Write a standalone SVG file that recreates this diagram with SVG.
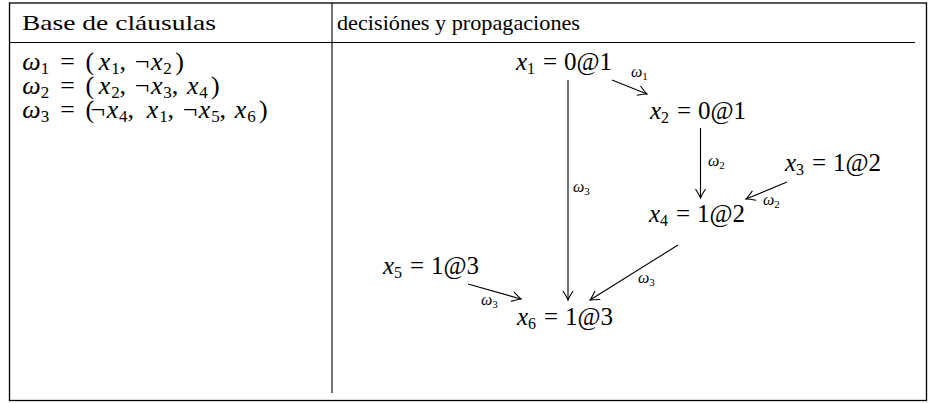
<svg xmlns="http://www.w3.org/2000/svg" width="935" height="403" viewBox="0 0 935 403">
<style>
  .t { font-family: "Liberation Serif", "Times New Roman", serif; font-size: 25px; fill: #000; }
  .c { font-family: "Liberation Serif", "Times New Roman", serif; font-size: 26px; fill: #000; text-anchor: middle; }
  .h { font-family: "Liberation Serif", "Times New Roman", serif; font-size: 21px; fill: #000; }
  .i { font-style: italic; }
  .s { font-size: 16px; font-style: normal; }
  .cs { font-size: 17px; font-style: normal; }
  .l { font-family: "Liberation Serif", "Times New Roman", serif; font-size: 16px; font-style: italic; fill: #000; }
  .ls { font-size: 11px; font-style: normal; }
  .frame { fill: none; stroke: #000; stroke-width: 1.3; }
  .edge { fill: none; stroke: #000; stroke-width: 1.1; marker-end: url(#ah); }
</style>
<defs>
  <marker id="ah" markerUnits="userSpaceOnUse" markerWidth="14" markerHeight="14" refX="0" refY="0" viewBox="-10 -7 12 14" orient="auto">
    <path d="M -9 -5 Q -3 -1.2 0 0 Q -3 1.2 -9 5" fill="none" stroke="#000" stroke-width="1.1"/>
  </marker>
</defs>
<rect id="table" x="9.5" y="3" width="917" height="397.5" class="frame"/>
<g id="rules">
  <line x1="9.5" y1="42.5" x2="915" y2="42.5" stroke="#000" stroke-width="1.1"/>
  <line x1="332" y1="3" x2="332" y2="393" stroke="#000" stroke-width="1.1"/>
</g>
<g id="headers">
  <text class="h" x="22" y="30" textLength="194" lengthAdjust="spacingAndGlyphs">Base de cláusulas</text>
  <text class="h" x="337" y="30" textLength="243" lengthAdjust="spacingAndGlyphs">decisiónes y propagaciones</text>
</g>
<g id="clauses">
  <text class="c"><tspan class="i" x="31.5" y="70">ω</tspan><tspan class="cs" x="44.9" y="74">1</tspan><tspan x="67.5" y="70">=</tspan><tspan x="89.9" y="70">(</tspan><tspan class="i" x="104.6" y="70">x</tspan><tspan class="cs" x="115.5" y="74">1</tspan><tspan x="122.8" y="70">,</tspan><tspan x="142.1" y="70">¬</tspan><tspan class="i" x="156.7" y="70">x</tspan><tspan class="cs" x="167.5" y="74">2</tspan><tspan x="179.5" y="70">)</tspan></text>
  <text class="c"><tspan class="i" x="31.5" y="94">ω</tspan><tspan class="cs" x="44.9" y="98">2</tspan><tspan x="67.5" y="94">=</tspan><tspan x="89.9" y="94">(</tspan><tspan class="i" x="104.6" y="94">x</tspan><tspan class="cs" x="115.5" y="98">2</tspan><tspan x="122.8" y="94">,</tspan><tspan x="142.1" y="94">¬</tspan><tspan class="i" x="156.7" y="94">x</tspan><tspan class="cs" x="167.5" y="98">3</tspan><tspan x="174.9" y="94">,</tspan><tspan class="i" x="192.7" y="94">x</tspan><tspan class="cs" x="203.5" y="98">4</tspan><tspan x="215.4" y="94">)</tspan></text>
  <text class="c"><tspan class="i" x="31.5" y="118">ω</tspan><tspan class="cs" x="44.9" y="122">3</tspan><tspan x="67.5" y="118">=</tspan><tspan x="89.9" y="118">(</tspan><tspan x="97.9" y="118">¬</tspan><tspan class="i" x="112.4" y="118">x</tspan><tspan class="cs" x="123.3" y="122">4</tspan><tspan x="130.7" y="118">,</tspan><tspan class="i" x="152.5" y="118">x</tspan><tspan class="cs" x="163.4" y="122">1</tspan><tspan x="170.8" y="118">,</tspan><tspan x="190" y="118">¬</tspan><tspan class="i" x="204.6" y="118">x</tspan><tspan class="cs" x="215.5" y="122">5</tspan><tspan x="222.8" y="118">,</tspan><tspan class="i" x="240.6" y="118">x</tspan><tspan class="cs" x="251.4" y="122">6</tspan><tspan x="263.4" y="118">)</tspan></text>
</g>
<g id="n1"><text class="t" y="70"><tspan x="516" class="i">x</tspan><tspan class="s" dy="4">1</tspan><tspan x="543" dy="-4">=</tspan><tspan x="564">0@1</tspan></text></g>
<g id="n2"><text class="t" y="119"><tspan x="650" class="i">x</tspan><tspan class="s" dy="4">2</tspan><tspan x="677" dy="-4">=</tspan><tspan x="698">0@1</tspan></text></g>
<g id="n3"><text class="t" y="171"><tspan x="785" class="i">x</tspan><tspan class="s" dy="4">3</tspan><tspan x="812" dy="-4">=</tspan><tspan x="833">1@2</tspan></text></g>
<g id="n4"><text class="t" y="222"><tspan x="649" class="i">x</tspan><tspan class="s" dy="4">4</tspan><tspan x="676" dy="-4">=</tspan><tspan x="697">1@2</tspan></text></g>
<g id="n5"><text class="t" y="274"><tspan x="383" class="i">x</tspan><tspan class="s" dy="4">5</tspan><tspan x="410" dy="-4">=</tspan><tspan x="431">1@3</tspan></text></g>
<g id="n6"><text class="t" y="325"><tspan x="517" class="i">x</tspan><tspan class="s" dy="4">6</tspan><tspan x="544" dy="-4">=</tspan><tspan x="565">1@3</tspan></text></g>
<g id="edges">
  <line class="edge" x1="612" y1="80" x2="647" y2="94"/>
  <line class="edge" x1="568" y1="80" x2="568" y2="300"/>
  <line class="edge" x1="700.5" y1="128" x2="700.5" y2="198"/>
  <line class="edge" x1="787" y1="182" x2="746" y2="199"/>
  <line class="edge" x1="678" y1="245" x2="590" y2="300"/>
  <line class="edge" x1="468" y1="284" x2="521" y2="299"/>
</g>
<g id="edge-labels">
  <text class="l" x="631" y="77">ω<tspan class="ls" dy="3">1</tspan></text>
  <text class="l" x="573" y="192">ω<tspan class="ls" dy="3">3</tspan></text>
  <text class="l" x="708" y="166">ω<tspan class="ls" dy="3">2</tspan></text>
  <text class="l" x="763" y="205">ω<tspan class="ls" dy="3">2</tspan></text>
  <text class="l" x="638" y="283">ω<tspan class="ls" dy="3">3</tspan></text>
  <text class="l" x="481" y="305">ω<tspan class="ls" dy="3">3</tspan></text>
</g>
</svg>
